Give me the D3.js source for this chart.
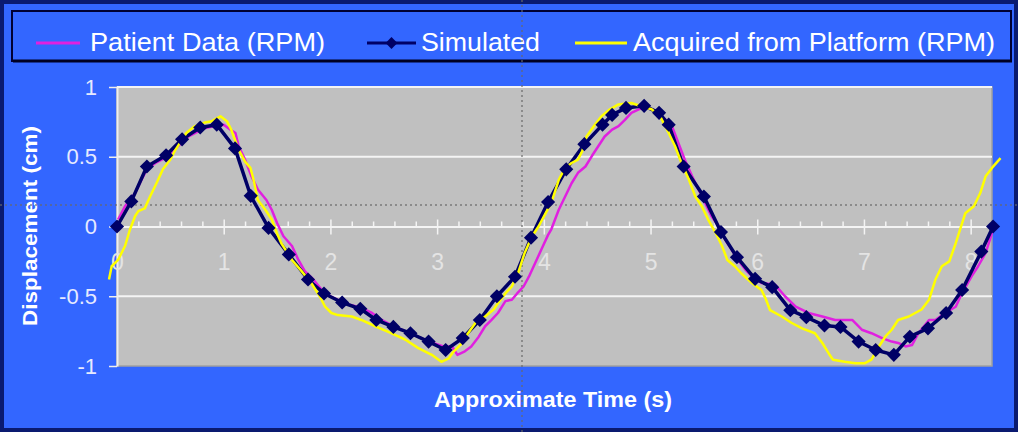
<!DOCTYPE html>
<html><head><meta charset="utf-8">
<script src="https://cdn.jsdelivr.net/npm/d3@7"></script>
<style>html,body{margin:0;padding:0;background:#3366ff;} svg{display:block;font-family:"Liberation Sans",Arial,sans-serif;}</style>
</head><body><svg id="c" width="1018" height="432"></svg>
<script>
// ---- data ----
const seriesNames = ["Patient Data (RPM)", "Simulated", "Acquired from Platform (RPM)"];
const xTickValues = [0, 1, 2, 3, 4, 5, 6, 7, 8];
const yTickValues = [-1, -0.5, 0, 0.5, 1];
const xTitle = "Approximate Time (s)";
const yTitle = "Displacement (cm)";

const simTime = [0, 0.134, 0.28, 0.46, 0.61, 0.78, 0.935, 1.106, 1.253, 1.42, 1.61, 1.79, 1.94, 2.11, 2.28, 2.43, 2.59, 2.75, 2.92, 3.08, 3.24, 3.40, 3.56, 3.73, 3.88, 4.04, 4.21, 4.38, 4.55, 4.64, 4.77, 4.94, 5.08, 5.17, 5.31, 5.50, 5.66, 5.81, 5.98, 6.14, 6.31, 6.46, 6.63, 6.78, 6.95, 7.11, 7.28, 7.43, 7.60, 7.77, 7.92, 8.10, 8.21];
const simDisp = [0, 0.18, 0.43, 0.51, 0.625, 0.71, 0.73, 0.56, 0.22, -0.01, -0.2, -0.38, -0.48, -0.545, -0.59, -0.67, -0.72, -0.765, -0.825, -0.885, -0.80, -0.67, -0.50, -0.36, -0.08, 0.175, 0.41, 0.59, 0.73, 0.80, 0.85, 0.865, 0.815, 0.73, 0.43, 0.215, -0.04, -0.22, -0.375, -0.435, -0.60, -0.65, -0.71, -0.72, -0.825, -0.885, -0.92, -0.79, -0.73, -0.62, -0.455, -0.18, 0.0];

const patientTime = [0.01, 0.075, 0.17, 0.23, 0.28, 0.36, 0.42, 0.50, 0.57, 0.67, 0.73, 0.82, 0.92, 1.00, 1.06, 1.11, 1.14, 1.20, 1.26, 1.32, 1.40, 1.45, 1.50, 1.56, 1.64, 1.70, 1.76, 1.84, 1.92, 2.00, 2.08, 2.18, 2.28, 2.39, 2.48, 2.58, 2.70, 2.82, 2.94, 3.06, 3.14, 3.19, 3.26, 3.32, 3.39, 3.45, 3.51, 3.57, 3.64, 3.70, 3.75, 3.81, 3.86, 3.92, 3.98, 4.04, 4.07, 4.14, 4.20, 4.26, 4.32, 4.39, 4.45, 4.51, 4.57, 4.64, 4.70, 4.76, 4.82, 4.89, 4.96, 5.04, 5.12, 5.20, 5.26, 5.32, 5.39, 5.45, 5.51, 5.57, 5.64, 5.70, 5.76, 5.82, 5.89, 5.95, 6.04, 6.10, 6.17, 6.26, 6.36, 6.48, 6.61, 6.73, 6.89, 6.98, 7.07, 7.17, 7.26, 7.32, 7.39, 7.45, 7.51, 7.61, 7.67, 7.76, 7.86, 7.92, 8.01, 8.07, 8.14, 8.20];
const patientDisp = [0.05, 0.145, 0.24, 0.335, 0.41, 0.455, 0.48, 0.515, 0.575, 0.645, 0.67, 0.705, 0.72, 0.73, 0.695, 0.67, 0.575, 0.48, 0.36, 0.265, 0.19, 0.12, 0.025, -0.07, -0.14, -0.24, -0.32, -0.38, -0.455, -0.50, -0.53, -0.56, -0.58, -0.62, -0.67, -0.71, -0.75, -0.79, -0.83, -0.86, -0.86, -0.92, -0.895, -0.86, -0.79, -0.715, -0.67, -0.62, -0.535, -0.525, -0.48, -0.43, -0.36, -0.26, -0.16, -0.06, -0.02, 0.12, 0.215, 0.31, 0.385, 0.43, 0.505, 0.575, 0.645, 0.695, 0.72, 0.765, 0.815, 0.84, 0.86, 0.83, 0.78, 0.72, 0.60, 0.48, 0.36, 0.265, 0.17, 0.075, 0.0, -0.095, -0.165, -0.24, -0.31, -0.355, -0.405, -0.41, -0.42, -0.50, -0.575, -0.62, -0.645, -0.67, -0.67, -0.74, -0.765, -0.80, -0.825, -0.835, -0.86, -0.85, -0.765, -0.67, -0.67, -0.62, -0.575, -0.475, -0.355, -0.285, -0.19, -0.045];

const platformTime = [-0.075, -0.05, 0.01, 0.075, 0.12, 0.17, 0.20, 0.26, 0.31, 0.37, 0.43, 0.50, 0.54, 0.59, 0.65, 0.73, 0.82, 0.89, 0.97, 1.03, 1.07, 1.14, 1.20, 1.25, 1.28, 1.32, 1.39, 1.45, 1.50, 1.54, 1.64, 1.73, 1.82, 1.90, 1.95, 2.01, 2.07, 2.20, 2.29, 2.42, 2.57, 2.70, 2.82, 2.95, 3.04, 3.11, 3.15, 3.23, 3.29, 3.36, 3.45, 3.53, 3.57, 3.64, 3.70, 3.76, 3.82, 3.89, 3.95, 4.01, 4.07, 4.14, 4.20, 4.26, 4.32, 4.36, 4.40, 4.47, 4.54, 4.62, 4.70, 4.82, 4.92, 5.01, 5.09, 5.17, 5.23, 5.29, 5.36, 5.42, 5.48, 5.54, 5.61, 5.67, 5.72, 5.79, 5.85, 5.95, 6.04, 6.08, 6.12, 6.23, 6.32, 6.42, 6.54, 6.61, 6.67, 6.71, 6.82, 6.92, 7.01, 7.07, 7.14, 7.20, 7.26, 7.32, 7.42, 7.54, 7.61, 7.67, 7.73, 7.80, 7.86, 7.92, 7.95, 8.03, 8.09, 8.14, 8.20, 8.28];
const platformDisp = [-0.38, -0.285, -0.24, -0.14, -0.025, 0.075, 0.11, 0.13, 0.215, 0.31, 0.41, 0.48, 0.54, 0.60, 0.67, 0.72, 0.745, 0.755, 0.79, 0.755, 0.695, 0.55, 0.465, 0.42, 0.335, 0.19, 0.12, 0.05, -0.05, -0.12, -0.24, -0.32, -0.405, -0.50, -0.575, -0.62, -0.635, -0.645, -0.67, -0.715, -0.765, -0.81, -0.87, -0.92, -0.97, -0.945, -0.90, -0.84, -0.765, -0.69, -0.645, -0.595, -0.55, -0.48, -0.43, -0.33, -0.19, -0.07, 0.0, 0.085, 0.17, 0.335, 0.42, 0.455, 0.48, 0.54, 0.645, 0.72, 0.79, 0.84, 0.875, 0.885, 0.86, 0.84, 0.79, 0.67, 0.575, 0.455, 0.335, 0.215, 0.145, 0.05, -0.045, -0.14, -0.24, -0.285, -0.335, -0.405, -0.455, -0.52, -0.60, -0.645, -0.69, -0.73, -0.765, -0.835, -0.91, -0.955, -0.97, -0.98, -0.98, -0.955, -0.86, -0.79, -0.74, -0.67, -0.645, -0.595, -0.525, -0.38, -0.285, -0.25, -0.12, 0.025, 0.095, 0.145, 0.24, 0.36, 0.42, 0.49];

// ---- colours ----
const BLUE = "#3366ff", NAVY = "#000066", PINK = "#e020e0", YELLOW = "#ffff00", PLOT = "#c0c0c0";

const svg = d3.select("#c");
const W = 1018, H = 432;

svg.append("rect").attr("x", 0).attr("y", 0).attr("width", W).attr("height", H).attr("fill", BLUE);
svg.append("rect").attr("x", 2).attr("y", 2).attr("width", W - 4).attr("height", H - 4)
  .attr("fill", "none").attr("stroke", "#0a1a70").attr("stroke-width", 4);

const x = d3.scaleLinear().domain([0, 8.2]).range([117, 992]);
const y = d3.scaleLinear().domain([-1, 1]).range([366, 87]);

// plot area
svg.append("rect").attr("x", x(0)).attr("y", y(1)).attr("width", x(8.2) - x(0)).attr("height", y(-1) - y(1))
  .attr("fill", PLOT).attr("stroke", "#a0a0a0").attr("stroke-width", 1.5);

// gridlines
svg.append("g").selectAll("line").data(yTickValues.filter(d => d !== 0 && d !== -1)).join("line")
  .attr("x1", x(0)).attr("x2", x(8.2)).attr("y1", d => y(d)).attr("y2", d => y(d))
  .attr("stroke", "#f4f4f4").attr("stroke-width", 2);

// y axis
const yAxis = svg.append("g").attr("transform", `translate(${x(0)},0)`)
  .call(d3.axisLeft(y).tickValues(yTickValues).tickSize(8).tickSizeOuter(0).tickPadding(12).tickFormat(d => String(d)));
yAxis.select(".domain").attr("stroke", "#eeeeee").attr("stroke-width", 2);
yAxis.selectAll(".tick line").attr("stroke", "#eeeeee").attr("stroke-width", 1.5);
yAxis.selectAll(".tick text").attr("fill", "#e6eaff").attr("font-size", 22)
  .attr("font-family", "'Liberation Sans', Arial, sans-serif");

// x axis at y = 0
const minorTicks = d3.range(0, 8.21, 0.2).filter(d => Math.abs(d - Math.round(d)) > 0.01);
const xAxisG = svg.append("g").attr("transform", `translate(0,${y(0)})`);
const xAxis = xAxisG.append("g")
  .call(d3.axisBottom(x).tickValues(xTickValues).tickSize(8).tickSizeOuter(0).tickPadding(19).tickFormat(d => String(d)));
xAxis.select(".domain").attr("stroke", "#f4f4f4").attr("stroke-width", 2);
xAxis.selectAll(".tick line").attr("stroke", "#f4f4f4").attr("stroke-width", 1.5);
xAxis.selectAll(".tick text").attr("fill", "#e4e4e4").attr("font-size", 23)
  .attr("font-family", "'Liberation Sans', Arial, sans-serif");
const xTop = xAxisG.append("g").call(d3.axisTop(x).tickValues(xTickValues).tickSize(7).tickSizeOuter(0).tickFormat(""));
xTop.select(".domain").remove();
xTop.selectAll(".tick line").attr("stroke", "#f4f4f4").attr("stroke-width", 1.5);
const xMinor = xAxisG.append("g").call(d3.axisTop(x).tickValues(minorTicks).tickSize(5).tickSizeOuter(0).tickFormat(""));
xMinor.select(".domain").remove();
xMinor.selectAll(".tick line").attr("stroke", "#f4f4f4").attr("stroke-width", 1.5);

// axis titles
svg.append("text").attr("transform", `translate(37,226) rotate(-90)`).attr("text-anchor", "middle")
  .attr("fill", "#ffffff").attr("font-weight", "bold").attr("font-size", 20)
  .attr("textLength", 200).attr("lengthAdjust", "spacingAndGlyphs").text(yTitle);
svg.append("text").attr("x", 553).attr("y", 407).attr("text-anchor", "middle")
  .attr("fill", "#ffffff").attr("font-weight", "bold").attr("font-size", 22)
  .attr("textLength", 238).attr("lengthAdjust", "spacingAndGlyphs").text(xTitle);

// legend
const lg = svg.append("g");
lg.append("rect").attr("x", 12).attr("y", 11).attr("width", 999).attr("height", 50)
  .attr("fill", BLUE).attr("stroke", "#000033").attr("stroke-width", 2);
lg.append("line").attr("x1", 13).attr("x2", 1012).attr("y1", 61).attr("y2", 61).attr("stroke", "#000022").attr("stroke-width", 3);
const legendItems = [
  {name: seriesNames[0], color: PINK, lx: 36, lw: 44, tx: 90, tl: 235, marker: false},
  {name: seriesNames[1], color: NAVY, lx: 367, lw: 49, tx: 421, tl: 119, marker: true},
  {name: seriesNames[2], color: YELLOW, lx: 575, lw: 52, tx: 633, tl: 362, marker: false}
];
legendItems.forEach(it => {
  lg.append("line").attr("x1", it.lx).attr("x2", it.lx + it.lw).attr("y1", 43).attr("y2", 43)
    .attr("stroke", it.color).attr("stroke-width", 3);
  if (it.marker) {
    lg.append("path").attr("d", d3.symbol(d3.symbolSquare, 70)())
      .attr("transform", `translate(${it.lx + it.lw / 2},43) rotate(45)`).attr("fill", NAVY);
  }
  lg.append("text").attr("x", it.tx).attr("y", 51).attr("fill", "#ffffff").attr("font-size", 25)
    .attr("textLength", it.tl).attr("lengthAdjust", "spacingAndGlyphs").text(it.name);
});

// crosshair artefact (dotted)
svg.append("line").attr("x1", 0).attr("x2", W).attr("y1", 205).attr("y2", 205)
  .attr("stroke", "#6a6a6a").attr("stroke-width", 1.5).attr("stroke-dasharray", "2,3").attr("opacity", 0.8);
svg.append("line").attr("x1", 522).attr("x2", 522).attr("y1", 0).attr("y2", H)
  .attr("stroke", "#6a6a6a").attr("stroke-width", 1.5).attr("stroke-dasharray", "2,3").attr("opacity", 0.8);

// series
const line = d3.line().x(d => x(d[0])).y(d => y(d[1]));
const patient = d3.zip(patientTime, patientDisp);
const sim = d3.zip(simTime, simDisp);
const platform = d3.zip(platformTime, platformDisp);

svg.append("path").datum(patient).attr("d", line).attr("fill", "none").attr("stroke", PINK).attr("stroke-width", 2.5).attr("stroke-linejoin", "round");
svg.append("path").datum(sim).attr("d", line).attr("fill", "none").attr("stroke", NAVY).attr("stroke-width", 3.5).attr("stroke-linejoin", "round");
svg.append("path").datum(platform).attr("d", line).attr("fill", "none").attr("stroke", YELLOW).attr("stroke-width", 2.5).attr("stroke-linejoin", "round");
svg.append("g").selectAll("path").data(sim).join("path")
  .attr("d", d3.symbol(d3.symbolSquare, 100)())
  .attr("transform", d => `translate(${x(d[0])},${y(d[1])}) rotate(45)`)
  .attr("fill", NAVY);
</script></body></html>
